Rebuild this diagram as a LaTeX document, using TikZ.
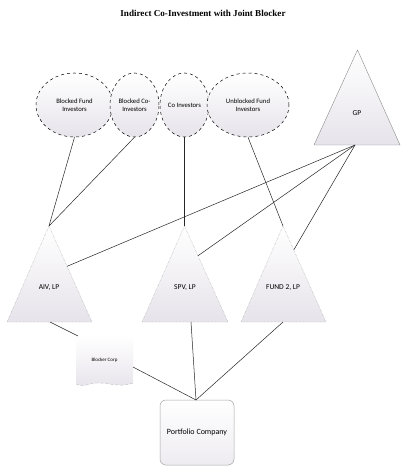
\documentclass[tikz,border=0pt]{standalone}
\usepackage{fontspec}
\setmainfont{Carlito}
\newfontfamily\titlefont{Liberation Serif}
\usetikzlibrary{shapes.geometric,calc}
\definecolor{fillbot}{RGB}{230,227,234}
\tikzset{
  x=1pt,y=-1pt,
  inv/.style={ellipse,draw,dashed,line width=0.5pt,top color=white,bottom color=fillbot,inner sep=0pt,align=center,font=\fontsize{6.7}{7.7}\selectfont},
  tri/.style={draw=gray!80,densely dotted,line width=0.4pt,top color=white,bottom color=fillbot},
  gptri/.style={draw=gray!90,line width=0.4pt,top color=white,bottom color=fillbot},
  link/.style={draw=black!85,line width=0.5pt},
  lbl/.style={font=\fontsize{7.5}{9}\selectfont,inner sep=0pt},
}
\begin{document}
\begin{tikzpicture}
\useasboundingbox (0,0) rectangle (408,473);
\fill[white] (0,0) rectangle (408,473);
\node[font=\titlefont\bfseries\fontsize{9.1}{10}\selectfont] (title) at (203,13) {Indirect Co-Investment with Joint Blocker};

% investor ellipses
\node[inv,minimum width=77,minimum height=64] (bfi) at (74.5,105) {Blocked Fund\\Investors};
\node[inv,minimum width=49,minimum height=64] (bci) at (134.5,105) {Blocked Co-\\Investors};
\node[inv,minimum width=49,minimum height=64] (coi) at (184.5,105) {Co Investors};
\node[inv,minimum width=82,minimum height=64] (ufi) at (248,105) {Unblocked Fund\\Investors};

% GP triangle
\coordinate (gpA) at (357.5,50);
\coordinate (gpL) at (314,145);
\coordinate (gpR) at (400,145);
\path[gptri] (gpA) -- (gpR) -- (gpL) -- cycle;
\coordinate (gpB) at (355,145);
\node[lbl] (gp) at (357,113) {GP};

% vehicle triangles
\coordinate (aivA) at (49,226);
\coordinate (aivL) at (7,322);
\coordinate (aivR) at (92,322);
\path[tri] (aivA) -- (aivR) -- (aivL) -- cycle;
\node[lbl] (aiv) at (49,288) {AIV, LP};

\coordinate (spvA) at (184.5,226);
\coordinate (spvL) at (142,322);
\coordinate (spvR) at (228,322);
\path[tri] (spvA) -- (spvR) -- (spvL) -- cycle;
\node[lbl] (spv) at (185,288) {SPV, LP};

\coordinate (f2A) at (283,226);
\coordinate (f2L) at (241,322);
\coordinate (f2R) at (326,322);
\path[tri] (f2A) -- (f2R) -- (f2L) -- cycle;
\node[lbl] (f2) at (283,288) {FUND 2, LP};

\coordinate (aivS) at ($(aivA)!0.42!(aivR)$);
\coordinate (spvS) at ($(spvA)!0.31!(spvR)$);
\coordinate (f2S) at ($(f2A)!0.25!(f2R)$);
\coordinate (aivB) at (50,322);
\coordinate (spvB) at (191,322);
\coordinate (f2B) at (283,322);

% blocker corp
\shade[top color=white,bottom color=fillbot] (76,336) -- (133,336) -- (133,383)
  .. controls (118,389) and (104,380) .. (90,384) .. controls (84,386) and (80,386) .. (76,384) -- cycle;
\draw[gray!50,densely dashed,line width=0.4pt] (133,383) .. controls (118,389) and (104,380) .. (90,384) .. controls (84,386) and (80,386) .. (76,384);
\node[font=\fontsize{5}{6}\selectfont,inner sep=0pt] (blk) at (104.5,360) {Blocker Corp};
\coordinate (blkTL) at (78,336);
\coordinate (blkR) at (133,367);

% portfolio company
\node[draw=gray!70,line width=0.5pt,rounded corners=6pt,top color=white,bottom color=fillbot!70,minimum width=74,minimum height=65,inner sep=0pt,font=\fontsize{8}{9}\selectfont] (pc) at (197,432.5) {Portfolio Company};
\coordinate (pcT) at (196,400);

% connectors
\draw[link] (bfi.south) -- (aivA);
\draw[link] (bci.south) -- (aivA);
\draw[link] (coi.south) -- (spvA);
\draw[link] (ufi.south) -- (f2A);
\draw[link] (gpB) -- (aivS);
\draw[link] (gpB) -- (spvS);
\draw[link] (gpB) -- (f2S);
\draw[link] (aivB) -- (blkTL);
\draw[link] (blkR) -- (pcT);
\draw[link] (spvB) -- (pcT);
\draw[link] (f2B) -- (pcT);
\end{tikzpicture}
\end{document}
